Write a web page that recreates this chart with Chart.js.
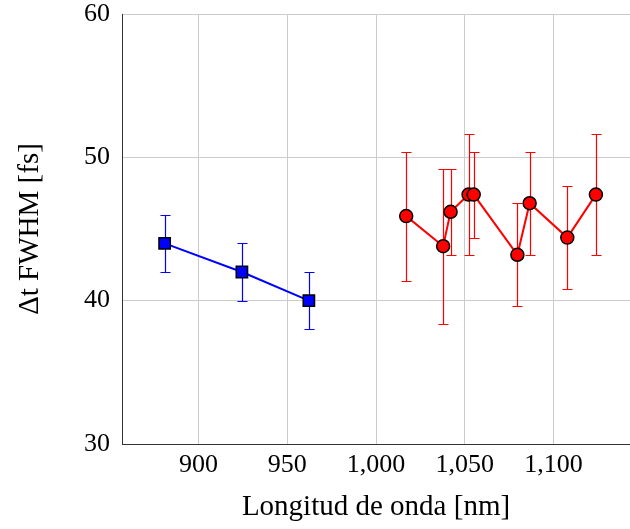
<!DOCTYPE html>
<html>
<head>
<meta charset="utf-8">
<style>
  html, body { margin: 0; padding: 0; background: #fff; }
  #wrap { width: 630px; height: 529px; }
</style>
</head>
<body>
<div id="wrap"><canvas id="fwhmChart" width="630" height="529"></canvas></div>

<script src="https://cdn.jsdelivr.net/npm/chart.js"></script>
<script>
  (() => {
    // blue series (squares)
    const blueX = [881, 924.5, 962.2];
    const blueY = [44, 42, 40];
    const blueErr = [2, 2, 2];

    // red series (circles)
    const redX = [1017, 1037.8, 1042, 1052.1, 1055, 1079.6, 1086.5, 1107.7, 1123.8];
    const redY = [45.9, 43.8, 46.2, 47.4, 47.4, 43.2, 46.8, 44.4, 47.4];
    const redErr = [4.5, 5.4, 3, 4.2, 3, 3.6, 3.6, 3.6, 4.2];

    const xTicks = [900, 950, 1000, 1050, 1100];
    const yTicks = [30, 40, 50, 60];

    const serif = "'Liberation Serif', 'DejaVu Serif', serif";

    function toPoints(xs, ys, errs) {
      const pts = [];
      for (let i = 0; i < xs.length; i++) {
        pts.push({ x: xs[i], y: ys[i], err: errs[i] });
      }
      return pts;
    }

    // error bars drawn through the chart scales
    const errorBars = {
      id: 'errorBars',
      beforeDatasetsDraw(chart) {
        const ctx = chart.ctx;
        const xs = chart.scales.x;
        const ys = chart.scales.y;
        chart.data.datasets.forEach(ds => {
          ctx.save();
          ctx.strokeStyle = ds.borderColor;
          ctx.lineWidth = 1.2;
          ds.data.forEach(p => {
            const px = Math.round(xs.getPixelForValue(p.x)) + 0.5;
            const top = Math.round(ys.getPixelForValue(p.y + p.err)) + 0.5;
            const bot = Math.round(ys.getPixelForValue(p.y - p.err)) + 0.5;
            ctx.beginPath();
            ctx.moveTo(px, top); ctx.lineTo(px, bot);
            ctx.moveTo(px - 5, top); ctx.lineTo(px + 5, top);
            ctx.moveTo(px - 5, bot); ctx.lineTo(px + 5, bot);
            ctx.stroke();
          });
          ctx.restore();
        });
      }
    };

    new Chart(document.getElementById('fwhmChart'), {
      type: 'scatter',
      data: {
        datasets: [{
          data: toPoints(blueX, blueY, blueErr),
          showLine: true,
          borderColor: '#0000ff',
          borderWidth: 2,
          backgroundColor: '#0000ff',
          pointStyle: 'rect',
          pointRadius: 8,
          pointBorderColor: '#000',
          pointBorderWidth: 1.5,
          pointBackgroundColor: '#0000ff'
        }, {
          data: toPoints(redX, redY, redErr),
          showLine: true,
          borderColor: '#ff0000',
          borderWidth: 2,
          backgroundColor: '#ff0000',
          pointStyle: 'circle',
          pointRadius: 6.5,
          pointBorderColor: '#000',
          pointBorderWidth: 1.5,
          pointBackgroundColor: '#ff0000'
        }]
      },
      options: {
        responsive: false,
        animation: false,
        layout: { autoPadding: false, padding: { top: 14, right: 0, left: 0, bottom: 0 } },
        plugins: { legend: { display: false }, tooltip: { enabled: false } },
        scales: {
          x: {
            type: 'linear',
            min: 857,
            max: 1143,
            afterBuildTicks: s => { s.ticks = xTicks.map(v => ({ value: v })); },
            afterFit: s => { s.height = 85; s.paddingLeft = 0; s.paddingRight = 0; },
            grid: { color: '#cccccc', drawTicks: false },
            border: { color: '#333', width: 1 },
            ticks: {
              color: '#000',
              padding: 6,
              font: { family: serif, size: 26 },
              callback: v => v.toLocaleString('en-US')
            },
            title: {
              display: true,
              text: 'Longitud de onda [nm]',
              color: '#000',
              font: { family: serif, size: 29 },
              padding: { top: 2 }
            }
          },
          y: {
            min: 30,
            max: 60,
            afterBuildTicks: s => { s.ticks = yTicks.map(v => ({ value: v })); },
            afterFit: s => { s.width = 122; s.paddingTop = 0; s.paddingBottom = 0; },
            grid: { color: '#cccccc', drawTicks: false },
            border: { color: '#333', width: 1 },
            ticks: {
              color: '#000',
              padding: 12,
              font: { family: serif, size: 26 }
            },
            title: {
              display: true,
              text: 'Δt FWHM [fs]',
              color: '#000',
              font: { family: serif, size: 29 },
              padding: { top: 13, bottom: 0 }
            }
          }
        }
      },
      plugins: [errorBars]
    });
  })();
</script>
</body>
</html>
